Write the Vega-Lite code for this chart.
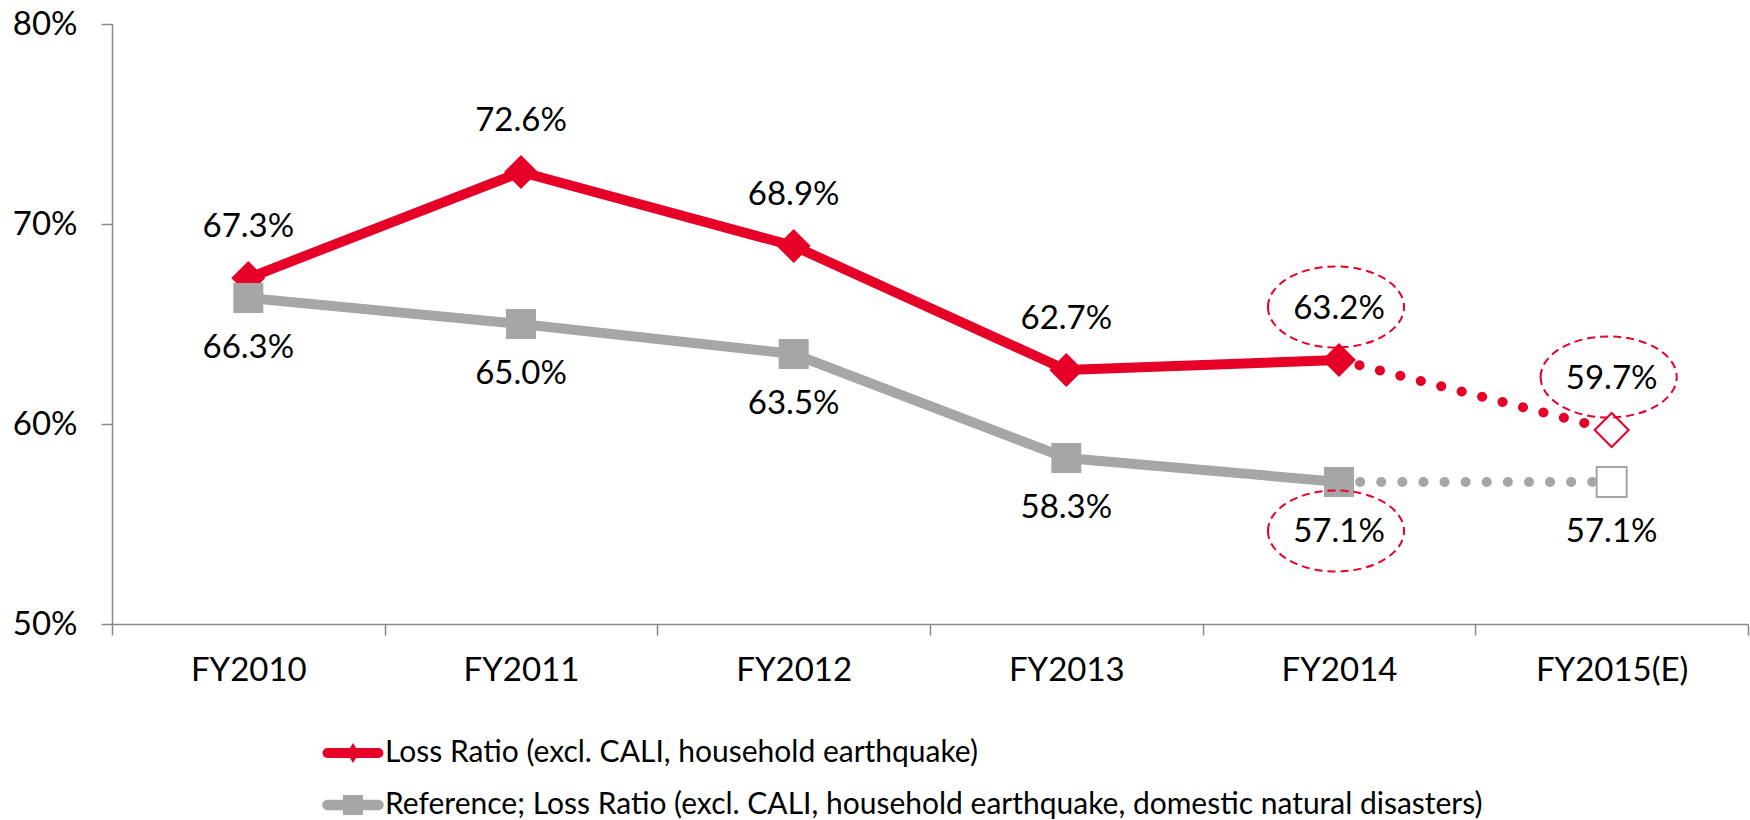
{
  "$schema": "https://vega.github.io/schema/vega-lite/v6.json",
  "width": 1636,
  "height": 600,
  "autosize": {"type": "none"},
  "padding": {"left": 112, "top": 24, "right": 2, "bottom": 196},
  "background": "white",
  "config": {"view": {"stroke": null}, "font": "Lato"},
  "data": {
    "values": [
      {"year": "FY2010", "series": "Loss Ratio (excl. CALI, household earthquake)", "value": 0.673, "phase": "actual", "highlight": false},
      {"year": "FY2011", "series": "Loss Ratio (excl. CALI, household earthquake)", "value": 0.726, "phase": "actual", "highlight": false},
      {"year": "FY2012", "series": "Loss Ratio (excl. CALI, household earthquake)", "value": 0.689, "phase": "actual", "highlight": false},
      {"year": "FY2013", "series": "Loss Ratio (excl. CALI, household earthquake)", "value": 0.627, "phase": "actual", "highlight": false},
      {"year": "FY2014", "series": "Loss Ratio (excl. CALI, household earthquake)", "value": 0.632, "phase": "actual", "highlight": true},
      {"year": "FY2015(E)", "series": "Loss Ratio (excl. CALI, household earthquake)", "value": 0.597, "phase": "estimate", "highlight": true},
      {"year": "FY2010", "series": "Reference; Loss Ratio (excl. CALI, household earthquake, domestic natural disasters)", "value": 0.663, "phase": "actual", "highlight": false},
      {"year": "FY2011", "series": "Reference; Loss Ratio (excl. CALI, household earthquake, domestic natural disasters)", "value": 0.650, "phase": "actual", "highlight": false},
      {"year": "FY2012", "series": "Reference; Loss Ratio (excl. CALI, household earthquake, domestic natural disasters)", "value": 0.635, "phase": "actual", "highlight": false},
      {"year": "FY2013", "series": "Reference; Loss Ratio (excl. CALI, household earthquake, domestic natural disasters)", "value": 0.583, "phase": "actual", "highlight": false},
      {"year": "FY2014", "series": "Reference; Loss Ratio (excl. CALI, household earthquake, domestic natural disasters)", "value": 0.571, "phase": "actual", "highlight": true},
      {"year": "FY2015(E)", "series": "Reference; Loss Ratio (excl. CALI, household earthquake, domestic natural disasters)", "value": 0.571, "phase": "estimate", "highlight": false}
    ]
  },
  "encoding": {
    "x": {
      "field": "year", "type": "nominal", "sort": null,
      "scale": {"type": "band", "paddingInner": 0, "paddingOuter": 0},
      "axis": {
        "title": null, "labelAngle": 0, "labelFont": "Lato", "labelFontSize": 33, "labelColor": "black",
        "domainColor": "#888888", "domainWidth": 1.5, "tickColor": "#888888", "tickWidth": 1.5, "tickSize": 11,
        "tickBand": "extent", "labelPadding": 19, "grid": false
      }
    },
    "y": {
      "field": "value", "type": "quantitative",
      "scale": {"domain": [0.5, 0.8], "nice": false, "zero": false},
      "axis": {
        "title": null, "values": [0.5, 0.6, 0.7, 0.8], "format": ".0%", "labelFont": "Lato", "labelFontSize": 33,
        "labelColor": "black", "domainColor": "#888888", "domainWidth": 1.5, "tickColor": "#888888", "tickWidth": 1.5,
        "tickSize": 11, "labelPadding": 24, "grid": false
      }
    }
  },
  "layer": [
    {
      "transform": [{"filter": "datum.phase == 'actual'"}],
      "mark": {"type": "line", "strokeWidth": 10},
      "encoding": {
        "color": {
          "field": "series", "type": "nominal", "sort": null,
          "scale": {
            "domain": ["Loss Ratio (excl. CALI, household earthquake)", "Reference; Loss Ratio (excl. CALI, household earthquake, domestic natural disasters)"],
            "range": ["#E60028", "#A6A6A6"]
          },
          "legend": {
            "orient": "none", "legendX": 226, "legendY": 714, "direction": "vertical", "title": null,
            "labelFont": "Lato", "labelFontSize": 30, "labelColor": "black", "labelLimit": 0,
            "symbolSize": 900, "symbolOpacity": 1, "symbolStrokeWidth": 0, "labelOffset": 17, "rowPadding": 22, "padding": 0
          }
        }
      }
    },
    {
      "transform": [{"filter": "false"}],
      "mark": {"type": "point", "filled": true, "opacity": 1, "size": 900, "strokeWidth": 0},
      "encoding": {
        "color": {"field": "series", "type": "nominal", "sort": null},
        "shape": {
          "field": "series", "type": "nominal", "sort": null,
          "scale": {
            "domain": ["Loss Ratio (excl. CALI, household earthquake)", "Reference; Loss Ratio (excl. CALI, household earthquake, domestic natural disasters)"],
            "range": [
              "M-1.7,-0.33H1.7A0.33,0.33,0,0,1,1.7,0.33H-1.7A0.33,0.33,0,0,1,-1.7,-0.33Z M0,-0.67L0.4,0L0,0.67L-0.4,0Z",
              "M-1.7,-0.35H1.7A0.35,0.35,0,0,1,1.7,0.35H-1.7A0.35,0.35,0,0,1,-1.7,-0.35Z M-0.67,-0.67H0.67V0.67H-0.67Z"
            ]
          },
          "legend": {
            "orient": "none", "legendX": 226, "legendY": 714, "direction": "vertical", "title": null,
            "labelFont": "Lato", "labelFontSize": 30, "labelColor": "black", "labelLimit": 0,
            "symbolSize": 900, "symbolOpacity": 1, "symbolStrokeWidth": 0, "labelOffset": 17, "rowPadding": 22, "padding": 0
          }
        }
      }
    },
    {
      "transform": [{"filter": {"field": "year", "oneOf": ["FY2014", "FY2015(E)"]}}],
      "mark": {"type": "line", "strokeWidth": 10, "strokeDash": [0.1, 21], "strokeCap": "round"},
      "encoding": {
        "color": {"field": "series", "type": "nominal", "sort": null, "legend": null}
      }
    },
    {
      "transform": [{"filter": "datum.phase == 'actual' && datum.series == 'Loss Ratio (excl. CALI, household earthquake)'"}],
      "mark": {"type": "point", "filled": true, "opacity": 1, "shape": "diamond", "size": 1156, "color": "#E60028"},
      "encoding": {}
    },
    {
      "transform": [{"filter": "datum.phase == 'actual' && datum.series != 'Loss Ratio (excl. CALI, household earthquake)'"}],
      "mark": {"type": "point", "filled": true, "opacity": 1, "shape": "square", "size": 900, "color": "#A6A6A6"},
      "encoding": {}
    },
    {
      "transform": [{"filter": "datum.phase == 'estimate' && datum.series == 'Loss Ratio (excl. CALI, household earthquake)'"}],
      "mark": {"type": "point", "filled": false, "fill": "white", "fillOpacity": 1, "opacity": 1, "strokeWidth": 2, "stroke": "#E60028", "shape": "diamond", "size": 1156},
      "encoding": {}
    },
    {
      "transform": [{"filter": "datum.phase == 'estimate' && datum.series != 'Loss Ratio (excl. CALI, household earthquake)'"}],
      "mark": {"type": "point", "filled": false, "fill": "white", "fillOpacity": 1, "opacity": 1, "strokeWidth": 2, "stroke": "#A6A6A6", "shape": "square", "size": 900},
      "encoding": {}
    },
    {
      "transform": [{"filter": "datum.series == 'Loss Ratio (excl. CALI, household earthquake)'"}],
      "mark": {"type": "text", "dy": -51, "baseline": "middle", "align": "center", "font": "Lato", "fontSize": 33, "color": "black"},
      "encoding": {"text": {"field": "value", "type": "quantitative", "format": ".1%"}}
    },
    {
      "transform": [{"filter": "datum.series != 'Loss Ratio (excl. CALI, household earthquake)'"}],
      "mark": {"type": "text", "dy": 50, "baseline": "middle", "align": "center", "font": "Lato", "fontSize": 33, "color": "black"},
      "encoding": {"text": {"field": "value", "type": "quantitative", "format": ".1%"}}
    },
    {
      "transform": [{"filter": "datum.highlight && datum.series == 'Loss Ratio (excl. CALI, household earthquake)'"}],
      "mark": {"type": "point", "shape": "M-1.68,0A1.68,1,0,1,0,1.68,0A1.68,1,0,1,0,-1.68,0Z", "size": 6561, "filled": false, "fill": null, "stroke": "#E60028", "strokeWidth": 2, "strokeDash": [8, 5], "opacity": 1, "yOffset": -53, "xOffset": -3},
      "encoding": {}
    },
    {
      "transform": [{"filter": "datum.highlight && datum.series != 'Loss Ratio (excl. CALI, household earthquake)'"}],
      "mark": {"type": "point", "shape": "M-1.68,0A1.68,1,0,1,0,1.68,0A1.68,1,0,1,0,-1.68,0Z", "size": 6561, "filled": false, "fill": null, "stroke": "#E60028", "strokeWidth": 2, "strokeDash": [8, 5], "opacity": 1, "yOffset": 49, "xOffset": -3},
      "encoding": {}
    }
  ]
}
